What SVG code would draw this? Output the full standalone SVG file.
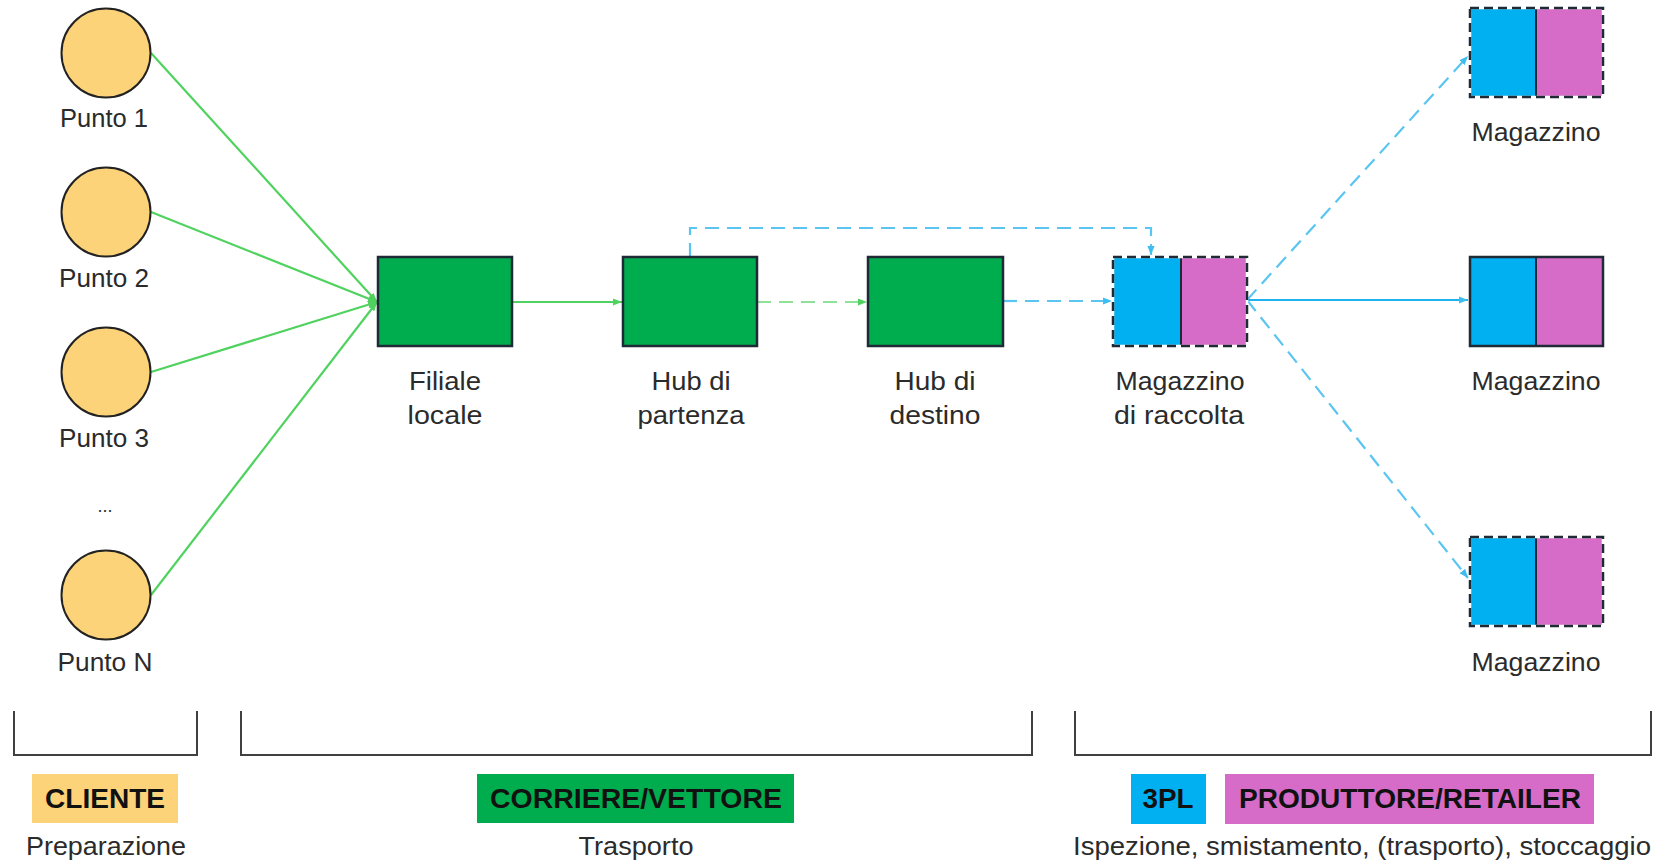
<svg xmlns="http://www.w3.org/2000/svg" width="1656" height="862" viewBox="0 0 1656 862">
<style>
.lbl{font-family:"Liberation Sans",Arial,sans-serif;font-size:26px;fill:#2b2b2b;text-anchor:middle}
.tag{font-family:"Liberation Sans",Arial,sans-serif;font-size:27px;font-weight:bold;fill:#111;text-anchor:middle}
.pt{fill:#FDD37A;stroke:#222;stroke-width:2}
.green{fill:#00AD4E;stroke:#1E2B37;stroke-width:2.5}
.blue{fill:#00B0F0}
.pink{fill:#D66CC7}
.dash{fill:none;stroke:#1E2B37;stroke-width:2.5;stroke-dasharray:9 5}
.solid{fill:none;stroke:#1E2B37;stroke-width:2.5}
.under{fill:none;stroke:#fff;stroke-width:2.5}
.div{stroke:#1E2B37;stroke-width:2}
.gl{stroke:#50D25F;stroke-width:2.2;fill:none}
.gld{stroke:#8EE29A;stroke-width:2.2;fill:none;stroke-dasharray:14 8}
.bld{stroke:#5BC5F2;stroke-width:2.2;fill:none;stroke-dasharray:14 8}
.bl{stroke:#1EB3EE;stroke-width:2.2;fill:none}
.br{stroke:#404040;stroke-width:2;fill:none}
</style>
<defs>
<marker id="ag" viewBox="0 0 10 10" refX="10" refY="5" markerWidth="9" markerHeight="9" markerUnits="userSpaceOnUse" orient="auto"><path d="M0,1 L10,5 L0,9 z" fill="#50D25F"/></marker>
<marker id="ab" viewBox="0 0 10 10" refX="10" refY="5" markerWidth="9" markerHeight="9" markerUnits="userSpaceOnUse" orient="auto"><path d="M0,1 L10,5 L0,9 z" fill="#3DBDF0"/></marker>
</defs>

<g id="connectors">
<line class="gl" x1="151" y1="53" x2="377" y2="302" marker-end="url(#ag)"/>
<line class="gl" x1="151" y1="212" x2="377" y2="302" marker-end="url(#ag)"/>
<line class="gl" x1="151" y1="372" x2="377" y2="302" marker-end="url(#ag)"/>
<line class="gl" x1="151" y1="595" x2="377" y2="302" marker-end="url(#ag)"/>
<line class="gl" x1="512" y1="302" x2="622" y2="302" marker-end="url(#ag)"/>
<line class="gld" x1="757" y1="302" x2="867" y2="302" marker-end="url(#ag)"/>
<line class="bld" x1="1003" y1="301" x2="1112" y2="301" marker-end="url(#ab)"/>
<path class="bld" d="M690,257 V228 H1151 V255" marker-end="url(#ab)"/>
<line class="bld" x1="1247" y1="300" x2="1468" y2="56" marker-end="url(#ab)"/>
<line class="bl" x1="1247" y1="300" x2="1468" y2="300" marker-end="url(#ab)"/>
<line class="bld" x1="1247" y1="300" x2="1468" y2="578" marker-end="url(#ab)"/>
</g>

<g id="punto1"><circle class="pt" cx="106" cy="53" r="44.5"/><text class="lbl" x="104" y="127" textLength="88" lengthAdjust="spacingAndGlyphs">Punto 1</text></g>
<g id="punto2"><circle class="pt" cx="106" cy="212" r="44.5"/><text class="lbl" x="104" y="287" textLength="90" lengthAdjust="spacingAndGlyphs">Punto 2</text></g>
<g id="punto3"><circle class="pt" cx="106" cy="372" r="44.5"/><text class="lbl" x="104" y="447" textLength="90" lengthAdjust="spacingAndGlyphs">Punto 3</text></g>
<g id="dots"><text class="lbl" x="105" y="512" style="font-size:18px">...</text></g>
<g id="puntoN"><circle class="pt" cx="106" cy="595" r="44.5"/><text class="lbl" x="105" y="671" textLength="95" lengthAdjust="spacingAndGlyphs">Punto N</text></g>

<g id="filiale"><rect class="green" x="378" y="257" width="134" height="89"/><text class="lbl" x="445" y="390" textLength="72" lengthAdjust="spacingAndGlyphs">Filiale</text><text class="lbl" x="445" y="424" textLength="75" lengthAdjust="spacingAndGlyphs">locale</text></g>
<g id="hub-partenza"><rect class="green" x="623" y="257" width="134" height="89"/><text class="lbl" x="691" y="390" textLength="79" lengthAdjust="spacingAndGlyphs">Hub di</text><text class="lbl" x="691" y="424" textLength="107" lengthAdjust="spacingAndGlyphs">partenza</text></g>
<g id="hub-destino"><rect class="green" x="868" y="257" width="135" height="89"/><text class="lbl" x="935" y="390" textLength="81" lengthAdjust="spacingAndGlyphs">Hub di</text><text class="lbl" x="935" y="424" textLength="91" lengthAdjust="spacingAndGlyphs">destino</text></g>

<g id="mag-raccolta">
<rect class="blue" x="1113" y="257" width="68" height="89"/><rect class="pink" x="1181" y="257" width="66" height="89"/>
<line class="div" x1="1181" y1="257" x2="1181" y2="346"/>
<rect class="under" x="1113" y="257" width="134" height="89"/><rect class="dash" x="1113" y="257" width="134" height="89"/>
<text class="lbl" x="1180" y="390" textLength="129" lengthAdjust="spacingAndGlyphs">Magazzino</text><text class="lbl" x="1179" y="424" textLength="130" lengthAdjust="spacingAndGlyphs">di raccolta</text>
</g>
<g id="mag-1">
<rect class="blue" x="1470" y="8" width="66" height="89"/><rect class="pink" x="1536" y="8" width="67" height="89"/>
<line class="div" x1="1536" y1="8" x2="1536" y2="97"/>
<rect class="under" x="1470" y="8" width="133" height="89"/><rect class="dash" x="1470" y="8" width="133" height="89"/>
<text class="lbl" x="1536" y="141" textLength="129" lengthAdjust="spacingAndGlyphs">Magazzino</text>
</g>
<g id="mag-2">
<rect class="blue" x="1470" y="257" width="66" height="89"/><rect class="pink" x="1536" y="257" width="67" height="89"/>
<line class="div" x1="1536" y1="257" x2="1536" y2="346"/>
<rect class="solid" x="1470" y="257" width="133" height="89"/>
<text class="lbl" x="1536" y="390" textLength="129" lengthAdjust="spacingAndGlyphs">Magazzino</text>
</g>
<g id="mag-3">
<rect class="blue" x="1470" y="537" width="66" height="89"/><rect class="pink" x="1536" y="537" width="67" height="89"/>
<line class="div" x1="1536" y1="537" x2="1536" y2="626"/>
<rect class="under" x="1470" y="537" width="133" height="89"/><rect class="dash" x="1470" y="537" width="133" height="89"/>
<text class="lbl" x="1536" y="671" textLength="129" lengthAdjust="spacingAndGlyphs">Magazzino</text>
</g>

<g id="legend-cliente">
<path class="br" d="M14,711 V755 H197 V711"/>
<rect x="32" y="774" width="146" height="49" fill="#FDD37A"/>
<text class="tag" x="105" y="808" textLength="120" lengthAdjust="spacingAndGlyphs">CLIENTE</text>
<text class="lbl" x="106" y="855" textLength="160" lengthAdjust="spacingAndGlyphs">Preparazione</text>
</g>
<g id="legend-corriere">
<path class="br" d="M241,711 V755 H1032 V711"/>
<rect x="477" y="774" width="317" height="49" fill="#00AD4E"/>
<text class="tag" x="636" y="808" textLength="292" lengthAdjust="spacingAndGlyphs">CORRIERE/VETTORE</text>
<text class="lbl" x="636" y="855" textLength="115" lengthAdjust="spacingAndGlyphs">Trasporto</text>
</g>
<g id="legend-3pl">
<path class="br" d="M1075,711 V755 H1651 V711"/>
<rect x="1131" y="774" width="75" height="50" fill="#00B0F0"/>
<text class="tag" x="1168" y="808" textLength="51" lengthAdjust="spacingAndGlyphs">3PL</text>
<rect x="1225" y="774" width="369" height="50" fill="#D66CC7"/>
<text class="tag" x="1410" y="808" textLength="342" lengthAdjust="spacingAndGlyphs">PRODUTTORE/RETAILER</text>
<text class="lbl" x="1362" y="855" textLength="578" lengthAdjust="spacingAndGlyphs">Ispezione, smistamento, (trasporto), stoccaggio</text>
</g>
</svg>
